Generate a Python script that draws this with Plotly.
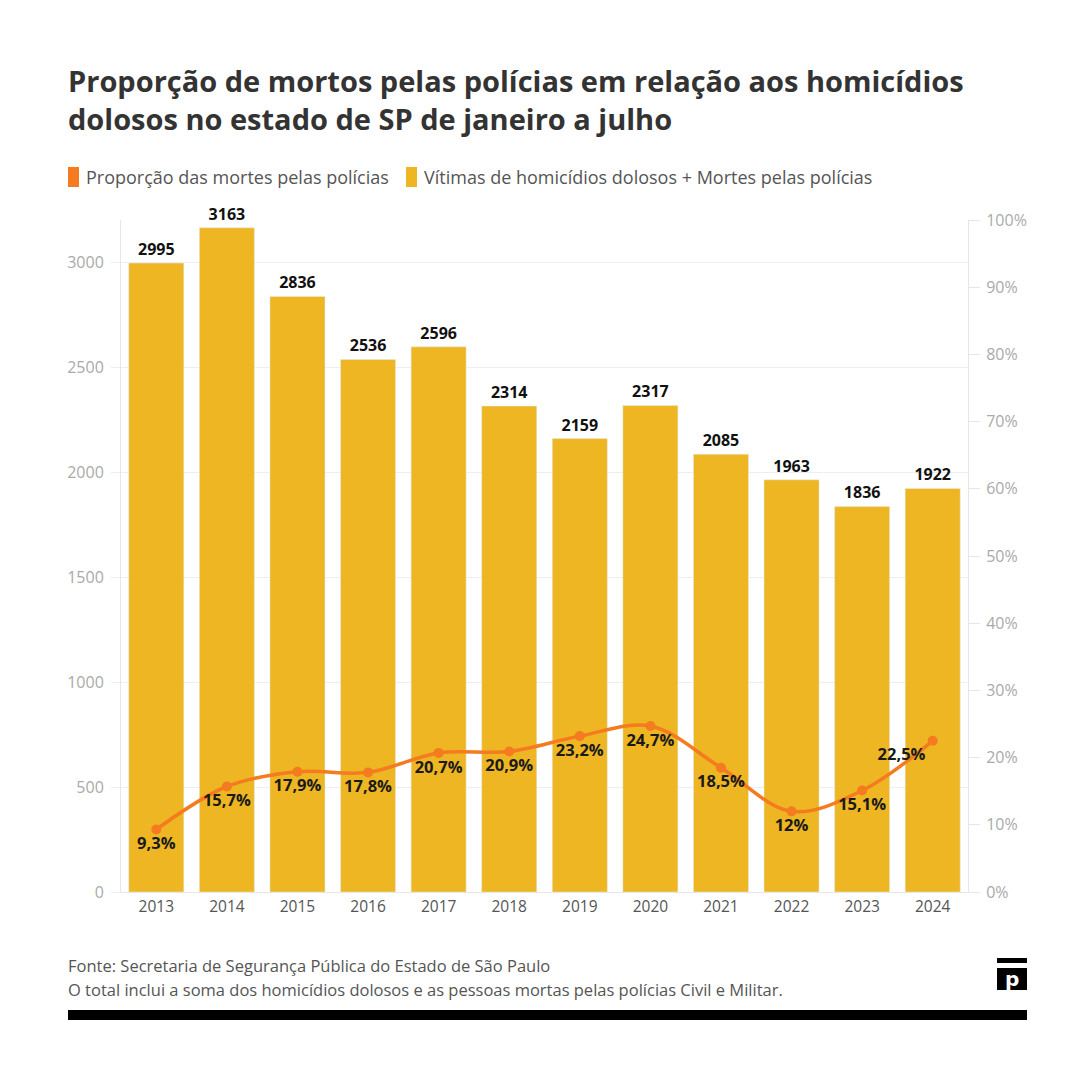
import plotly.graph_objects as go

anos = ["2013", "2014", "2015", "2016", "2017", "2018",
        "2019", "2020", "2021", "2022", "2023", "2024"]
vitimas = [2995, 3163, 2836, 2536, 2596, 2314, 2159, 2317, 2085, 1963, 1836, 1922]
proporcao = [9.3, 15.7, 17.9, 17.8, 20.7, 20.9, 23.2, 24.7, 18.5, 12.0, 15.1, 22.5]

left_ticks = [0, 500, 1000, 1500, 2000, 2500, 3000]
right_ticks = [0, 10, 20, 30, 40, 50, 60, 70, 80, 90, 100]

AMARELO = "#EDB622"
LARANJA = "#F47B20"
FONTE = "Open Sans"

# px(...) / py(...) -> coordenadas do papel a partir de pixels da tela
def px(x):
    return (x - 121) / 847


def py(y):
    return (892 - y) / 672


def fmt_pct(v):
    s = ("%.1f" % v).rstrip("0").rstrip(".")
    return s.replace(".", ",") + "%"


pct_text = [fmt_pct(v) for v in proporcao]
pct_pos = ["bottom center"] * (len(anos) - 1) + ["bottom left"]

fig = go.Figure()
fig.add_trace(go.Bar(
    x=anos, y=vitimas,
    marker=dict(color=AMARELO),
    text=[str(v) for v in vitimas],
    textposition="outside",
    textfont=dict(family=FONTE, size=16, color="#111111", weight="bold"),
    cliponaxis=False,
    showlegend=False,
    hoverinfo="skip",
))
fig.add_trace(go.Scatter(
    x=anos, y=proporcao, yaxis="y2",
    mode="lines+markers+text",
    line=dict(color=LARANJA, width=3.5, shape="spline", smoothing=1),
    marker=dict(color=LARANJA, size=10),
    text=pct_text,
    textposition=pct_pos,
    textfont=dict(family=FONTE, size=16.5, color="#1a1a1a", weight="bold"),
    cliponaxis=False,
    showlegend=False,
))

fig.update_layout(
    width=1080, height=1080,
    paper_bgcolor="white", plot_bgcolor="white",
    margin=dict(l=113, r=120, t=212, b=196),
    font=dict(family=FONTE, color="#555555"),
    bargap=0.22,
    xaxis=dict(
        automargin=False,
        range=[-0.5, len(anos) - 0.5],
        showline=True, linecolor="#e6e6e6", ticks="",
        tickfont=dict(size=15.5, color="#555555"),
    ),
    yaxis=dict(
        automargin=False,
        range=[0, 3200], tickvals=left_ticks,
        showgrid=True, gridcolor="#eeeeee", zeroline=False,
        showline=True, linecolor="#e6e6e6",
        ticks="outside", ticklen=9, tickcolor="#eeeeee",
        tickfont=dict(size=16, color="#aaaaaa"),
        ticklabelstandoff=4,
    ),
    yaxis2=dict(
        automargin=False,
        range=[0, 100], tickvals=right_ticks,
        ticktext=[f"{t}%" for t in right_ticks],
        overlaying="y", side="right",
        showgrid=False, zeroline=False,
        showline=True, linecolor="#e6e6e6",
        ticks="outside", ticklen=11, tickcolor="#e6e6e6",
        tickfont=dict(size=16, color="#aaaaaa"),
        ticklabelstandoff=3,
    ),
)

# titulo (duas linhas)
titulo = ["Proporção de mortos pelas polícias em relação aos homicídios",
          "dolosos no estado de SP de janeiro a julho"]
for i, linha in enumerate(titulo):
    fig.add_annotation(
        xref="paper", yref="paper", x=px(66), y=py(81 + 38 * i),
        xanchor="left", yanchor="middle", align="left", showarrow=False,
        text=f"<b>{linha}</b>",
        font=dict(family=FONTE, size=29, color="#333333"),
    )

# legenda
legenda = [(LARANJA, "Proporção das mortes pelas polícias", 68),
           (AMARELO, "Vítimas de homicídios dolosos + Mortes pelas polícias", 406)]
for cor, txt, lx in legenda:
    fig.add_shape(type="rect", xref="paper", yref="paper",
                  x0=px(lx), x1=px(lx + 11),
                  y0=py(187), y1=py(167),
                  fillcolor=cor, line=dict(width=0))
    fig.add_annotation(xref="paper", yref="paper",
                       x=px(lx + 16), y=py(177),
                       xanchor="left", yanchor="middle", showarrow=False,
                       text=txt, font=dict(family=FONTE, size=18, color="#555555"))

# fonte e nota
fontes = ["Fonte: Secretaria de Segurança Pública do Estado de São Paulo",
          "O total inclui a soma dos homicídios dolosos e as pessoas mortas pelas polícias Civil e Militar."]
for i, linha in enumerate(fontes):
    fig.add_annotation(
        xref="paper", yref="paper", x=px(66), y=py(965 + 24 * i),
        xanchor="left", yanchor="middle", align="left", showarrow=False,
        text=linha, font=dict(family=FONTE, size=16.5, color="#555555"),
    )

# barra preta inferior
fig.add_shape(type="rect", xref="paper", yref="paper",
              x0=px(68), x1=px(1027), y0=py(1020), y1=py(1010),
              fillcolor="black", line=dict(width=0))

# logo
fig.add_shape(type="rect", xref="paper", yref="paper",
              x0=px(997), x1=px(1027), y0=py(963), y1=py(958),
              fillcolor="black", line=dict(width=0))
fig.add_shape(type="rect", xref="paper", yref="paper",
              x0=px(997), x1=px(1027), y0=py(990), y1=py(968),
              fillcolor="black", line=dict(width=0))
fig.add_annotation(xref="paper", yref="paper",
                   x=px(1012), y=py(979),
                   xanchor="center", yanchor="middle", showarrow=False,
                   text="<b>p</b>", font=dict(family="DejaVu Sans", size=20, color="white"))

fig.write_html("out.html")
